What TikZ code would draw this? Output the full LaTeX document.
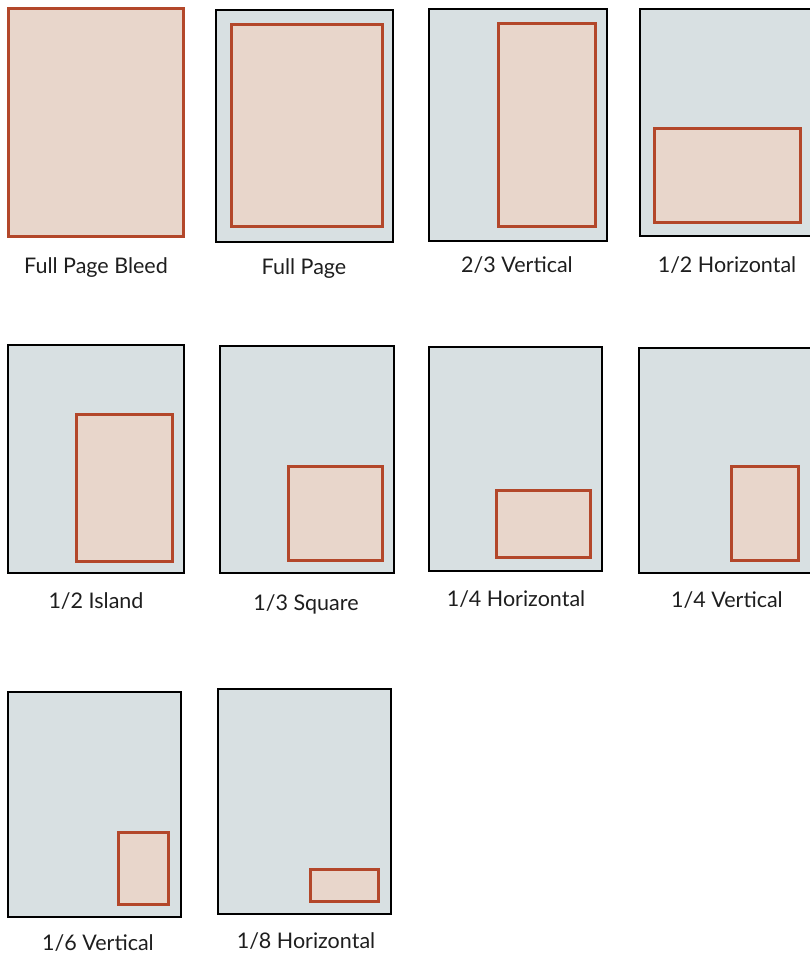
\documentclass[tikz,border=0pt]{standalone}
\usepackage{fontspec}
\setmainfont{Lato}
\definecolor{pagefill}{HTML}{D8E0E2}
\definecolor{adfill}{HTML}{E8D6CB}
\definecolor{adline}{HTML}{B3472A}
\definecolor{txt}{HTML}{1E1E1E}
\tikzset{
  pagebox/.style={draw=black, fill=pagefill, line width=2pt},
  adbox/.style={draw=adline, fill=adfill, line width=3pt},
  caption/.style={text=txt, font=\fontsize{21.5}{25}\selectfont, inner sep=0pt, anchor=base}
}
\begin{document}
\begin{tikzpicture}[x=1pt,y=-1pt]
\useasboundingbox (0,0) rectangle (810,956);
\clip (0,0) rectangle (810,956);
% Row 1
\draw[adbox] (8,8) rectangle (183,236);
\node[caption] (c1) at (96,273) {Full Page Bleed};

\draw[pagebox] (216,10) rectangle (393,242);
\draw[adbox] (231,24) rectangle (382,226);
\node[caption] (c2) at (304,274) {Full Page};

\draw[pagebox] (429,9) rectangle (607,241);
\draw[adbox] (498,23) rectangle (595,226);
\node[caption] (c3) at (517,272) {2/3 Vertical};

\draw[pagebox] (640,9) rectangle (815,236);
\draw[adbox] (654,128) rectangle (800,222);
\node[caption] (c4) at (727,272) {1/2 Horizontal};

% Row 2
\draw[pagebox] (8,345) rectangle (184,573);
\draw[adbox] (76,414) rectangle (172,561);
\node[caption] (c5) at (96,608) {1/2 Island};

\draw[pagebox] (220,346) rectangle (394,573);
\draw[adbox] (288,466) rectangle (382,560);
\node[caption] (c6) at (306,610) {1/3 Square};

\draw[pagebox] (429,347) rectangle (602,571);
\draw[adbox] (496,490) rectangle (590,557);
\node[caption] (c7) at (516,606) {1/4 Horizontal};

\draw[pagebox] (639,348) rectangle (815,573);
\draw[adbox] (731,466) rectangle (798,560);
\node[caption] (c8) at (727,607) {1/4 Vertical};

% Row 3
\draw[pagebox] (8,692) rectangle (181,917);
\draw[adbox] (118,832) rectangle (168,904);
\node[caption] (c9) at (98,950) {1/6 Vertical};

\draw[pagebox] (218,689) rectangle (391,914);
\draw[adbox] (310,869) rectangle (378,901);
\node[caption] (c10) at (306,948) {1/8 Horizontal};
\end{tikzpicture}
\end{document}
